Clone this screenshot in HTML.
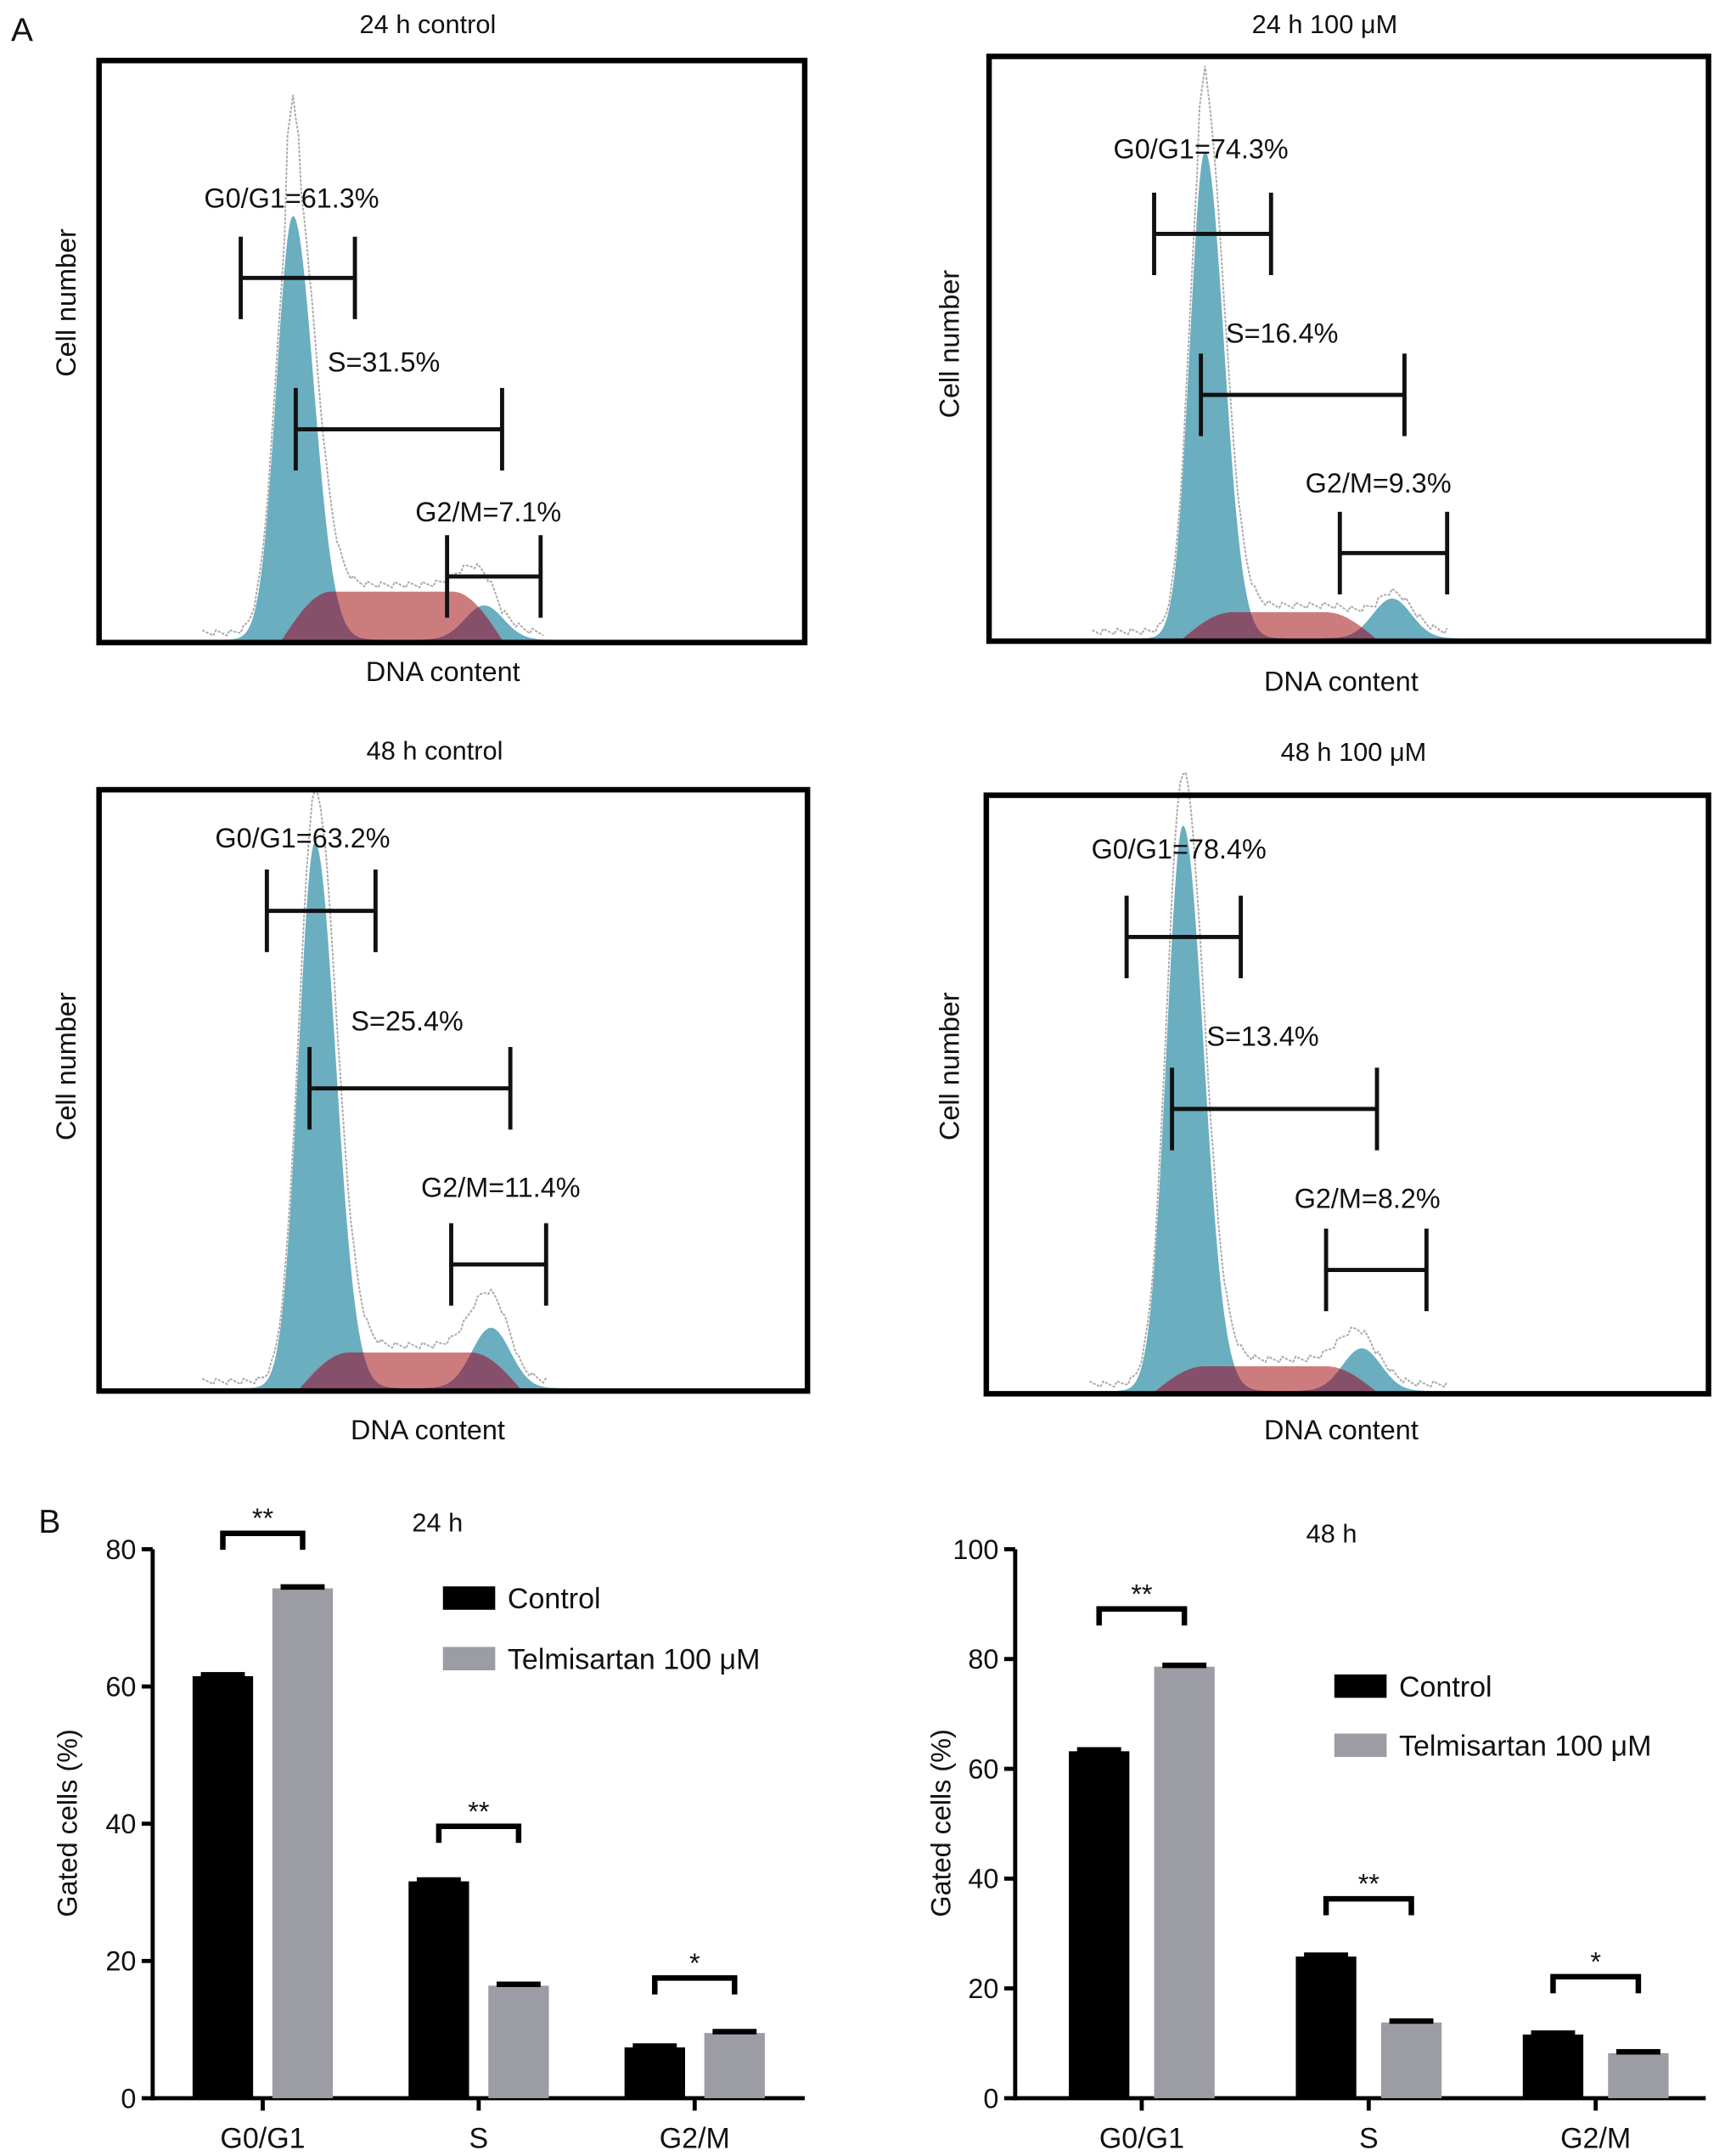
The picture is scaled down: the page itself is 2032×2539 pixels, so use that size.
<!DOCTYPE html>
<html><head><meta charset="utf-8"><style>
html,body{margin:0;padding:0;background:#fff}
svg{display:block}
text{font-family:"Liberation Sans",sans-serif;fill:#111}
</style></head><body>
<svg id="fig" width="2032" height="2539" viewBox="0 0 1254 1567" preserveAspectRatio="none" xmlns="http://www.w3.org/2000/svg">
<rect x="0" y="0" width="1254" height="1567" fill="#fff"/>
<text x="8" y="30" font-size="24">A</text>
<text x="28" y="1114" font-size="24">B</text>
<g id="hists"></g>
<g id="bars"></g>
</svg>
<script>
const NS='http://www.w3.org/2000/svg';
function mk(tag,attrs,parent,txt){const e=document.createElementNS(NS,tag);for(const k in attrs)e.setAttribute(k,attrs[k]);if(txt!==undefined)e.textContent=txt;parent.appendChild(e);return e;}

// ---------- Panel A histogram data ----------
const histTitles=['24 h control','24 h 100 μM','48 h control','48 h 100 μM'];
const histPhaseLabels=[['G0/G1=61.3%','S=31.5%','G2/M=7.1%'],['G0/G1=74.3%','S=16.4%','G2/M=9.3%'],['G0/G1=63.2%','S=25.4%','G2/M=11.4%'],['G0/G1=78.4%','S=13.4%','G2/M=8.2%']];
const g1PeakPos=[213,876,229,860];
const g1PeakTop=[157,110,612,600];
const g1Sigma=[12,11,12,12];
const sPhaseTop=[430,445,983,993];
const sPhaseRange=[[205,365],[860,1000],[218,378],[840,1000]];
const g2PeakPos=[352,1012,357,990];
const g2PeakTop=[440,435,965,980];
const noiseTop=[70,50,580,570];

const boxes=[[72,44,585,467],[719,41,1242,466],[72,574,587,1011],[717,578,1242,1013]];
const titlePos=[[311,24],[963,24],[316,552],[984,553]];
const ylabPos=[[55,220],[697,250],[55,775],[697,775]];
const xlabPos=[[322,495],[975,502],[311,1046],[975,1046]];
const brackets=[
 [[175,258,202],[215,365,312],[325,393,419]],
 [[839,924,170],[873,1021,287],[974,1052,402]],
 [[194,273,662],[225,371,791],[328,397,919]],
 [[819,902,681],[852,1001,806],[964,1037,923]]];
const labelPos=[
 [[212,151],[279,270],[355,379]],
 [[873,115],[932,249],[1002,358]],
 [[220,616],[296,749],[364,870]],
 [[857,624],[918,760],[994,878]]];

const H=document.getElementById('hists');
for(let i=0;i<4;i++){
  const g=mk('g',{},H);
  const [x0,y0,x1,y1]=boxes[i];
  const base=y1-2;
  const gauss=(x,m,s)=>Math.exp(-0.5*((x-m)/s)**2);
  const g1=x=>(base-g1PeakTop[i])*gauss(x,g1PeakPos[i],g1Sigma[i]*(x<g1PeakPos[i]?1:1.25));
  const g2h=base-g2PeakTop[i];
  const g2=x=>g2h*gauss(x,g2PeakPos[i],14);
  const [sa,sb]=sPhaseRange[i];const sh=base-sPhaseTop[i];
  const sf=x=>{if(x<sa||x>sb)return 0;const r=18;let v=1;if(x<sa+r*2)v=Math.sin(Math.PI/2*(x-sa)/(r*2));if(x>sb-r*2)v=Math.sin(Math.PI/2*(sb-x)/(r*2));return sh*v;};
  const path=f=>{let d='M'+(x0+5)+','+base;for(let x=x0+5;x<=x1-5;x+=1)d+=' L'+x+','+(base-f(x)).toFixed(1);return d+' L'+(x1-5)+','+base+' Z';};
  let nd='';const sumf=x=>g1(x)*1.05+sf(x)+g2(x)+3;
  for(let x=x0+75;x<=x1-190;x+=2){let v=sumf(x);if(Math.abs(x-g1PeakPos[i])<5)v=Math.max(v,base-noiseTop[i]-Math.abs(x-g1PeakPos[i])*8);nd+=(nd?' L':'M')+x+','+(base-v-((x*7)%5)).toFixed(1);}
  mk('path',{d:nd,fill:'none',stroke:'#aaa','stroke-width':1.2,'stroke-dasharray':'2,1',},g);
  mk('path',{d:path(g1),fill:'#6aaec0',},g);
  mk('path',{d:path(g2),fill:'#6aaec0',},g);
  mk('path',{d:path(sf),fill:'#c86e70','fill-opacity':0.9,},g);
  mk('path',{d:path(x=>Math.min(sf(x),Math.max(g1(x),g2(x)))),fill:'#87506a',},g);
  mk('rect',{x:x0,y:y0,width:x1-x0,height:y1-y0,fill:'none',stroke:'#000','stroke-width':4,},g);
  mk('text',{x:titlePos[i][0],y:titlePos[i][1],'font-size':19,'text-anchor':'middle',},g,histTitles[i]);
  mk('text',{x:ylabPos[i][0],y:ylabPos[i][1],'font-size':20,'text-anchor':'middle',transform:`rotate(-90 ${ylabPos[i][0]} ${ylabPos[i][1]})`,},g,'Cell number');
  mk('text',{x:xlabPos[i][0],y:xlabPos[i][1],'font-size':20,'text-anchor':'middle',},g,'DNA content');
  for(let k=0;k<3;k++){
    const [a,b,y]=brackets[i][k];
    const bg=mk('g',{},g);
    mk('path',{d:`M${a},${y-30}V${y+30}M${a},${y}H${b}M${b},${y-30}V${y+30}`,stroke:'#111','stroke-width':3,fill:'none'},bg);
    const [lx,ly]=labelPos[i][k];
    mk('text',{x:lx,y:ly,'font-size':20,'text-anchor':'middle',},bg,histPhaseLabels[i][k]);
  }
}

// ---------- Panel B bar chart data ----------
const categories=['G0/G1','S','G2/M'];
const control24=[61.5,31.6,7.4];
const telmi24=[74.3,16.4,9.5];
const control48=[63.2,25.8,11.6];
const telmi48=[78.6,13.8,8.2];
const ticks24=[0,20,40,60,80];
const ticks48=[0,20,40,60,80,100];
const sigMarks=['**','**','*'];
const seriesNames=['Control','Telmisartan 100 μM'];

function barChart(cfg){
  const B=document.getElementById('bars');
  const g=mk('g',{},B);
  const y=v=>cfg.y0-(v/cfg.max)*(cfg.y0-cfg.y1);
  const x=i=>cfg.cx0+i*cfg.step;
  mk('line',{x1:cfg.ax,y1:cfg.y1,x2:cfg.ax,y2:cfg.y0+1.5,stroke:'#000','stroke-width':3,},g);
  mk('line',{x1:cfg.ax-1.5,y1:cfg.y0,x2:cfg.xend,y2:cfg.y0,stroke:'#000','stroke-width':3,},g);
  cfg.ticks.forEach(t=>{
    mk('line',{x1:cfg.ax-8,y1:y(t),x2:cfg.ax,y2:y(t),stroke:'#000','stroke-width':3,},g);
    mk('text',{x:cfg.ax-12,y:y(t)+7,'font-size':20,'text-anchor':'end',},g,String(t));
  });
  categories.forEach((c,i)=>{
    mk('line',{x1:x(i),y1:cfg.y0,x2:x(i),y2:cfg.y0+9,stroke:'#000','stroke-width':3,},g);
    mk('text',{x:x(i),y:cfg.y0+36,'font-size':21,'text-anchor':'middle',},g,c);
    [[cfg.a,'#000',-1],[cfg.b,'#9c9ca4',1]].forEach(([arr,col,s],j)=>{
      const bx=x(i)+s*cfg.off-cfg.bw/2;
      const r=mk('rect',{x:bx,y:y(arr[i]),width:cfg.bw,height:cfg.y0-y(arr[i]),fill:col},g);
      
      
      mk('rect',{x:bx+6,y:y(arr[i])-3,width:cfg.bw-12,height:4,fill:'#000',},g);
    });
    const top=Math.max(cfg.a[i],cfg.b[i]);
    const by=y(top)-cfg.sigGap;
    const xa=x(i)-cfg.off,xb=x(i)+cfg.off;
    mk('path',{d:`M${xa},${by+12}V${by}H${xb}V${by+12}`,stroke:'#000','stroke-width':4,fill:'none',},g);
    mk('text',{x:x(i),y:by-4,'font-size':20,'text-anchor':'middle',fill:'#555',},g,sigMarks[i]);
  });
  mk('text',{x:cfg.tx,y:cfg.ty,'font-size':19,'text-anchor':'middle',},g,cfg.title);
  mk('text',{x:cfg.ylx,y:1325,'font-size':20,'text-anchor':'middle',transform:`rotate(-90 ${cfg.ylx} 1325)`,},g,'Gated cells (%)');
  seriesNames.forEach((n,j)=>{
    const lg=mk('g',{},g);
    mk('rect',{x:cfg.lx,y:cfg.ly+j*cfg.lgap-8,width:38,height:17,fill:j?'#9c9ca4':'#000'},lg);
    mk('text',{x:cfg.lx+47,y:cfg.ly+j*cfg.lgap+8,'font-size':21},lg,n);
  });
}
barChart({name:'bar-chart-24h',a:control24,b:telmi24,ticks:ticks24,max:80,y0:1525,y1:1126,ax:111,xend:585,cx0:191,step:157,off:29,bw:44,sigGap:40,title:'24 h',tx:318,ty:1113,ylx:56,lx:322,ly:1161,lgap:44});
barChart({name:'bar-chart-48h',a:control48,b:telmi48,ticks:ticks48,max:100,y0:1525,y1:1126,ax:738,xend:1240,cx0:830,step:165,off:31,bw:44,sigGap:42,title:'48 h',tx:968,ty:1121,ylx:691,lx:970,ly:1225,lgap:43});
</script>
</body></html>
